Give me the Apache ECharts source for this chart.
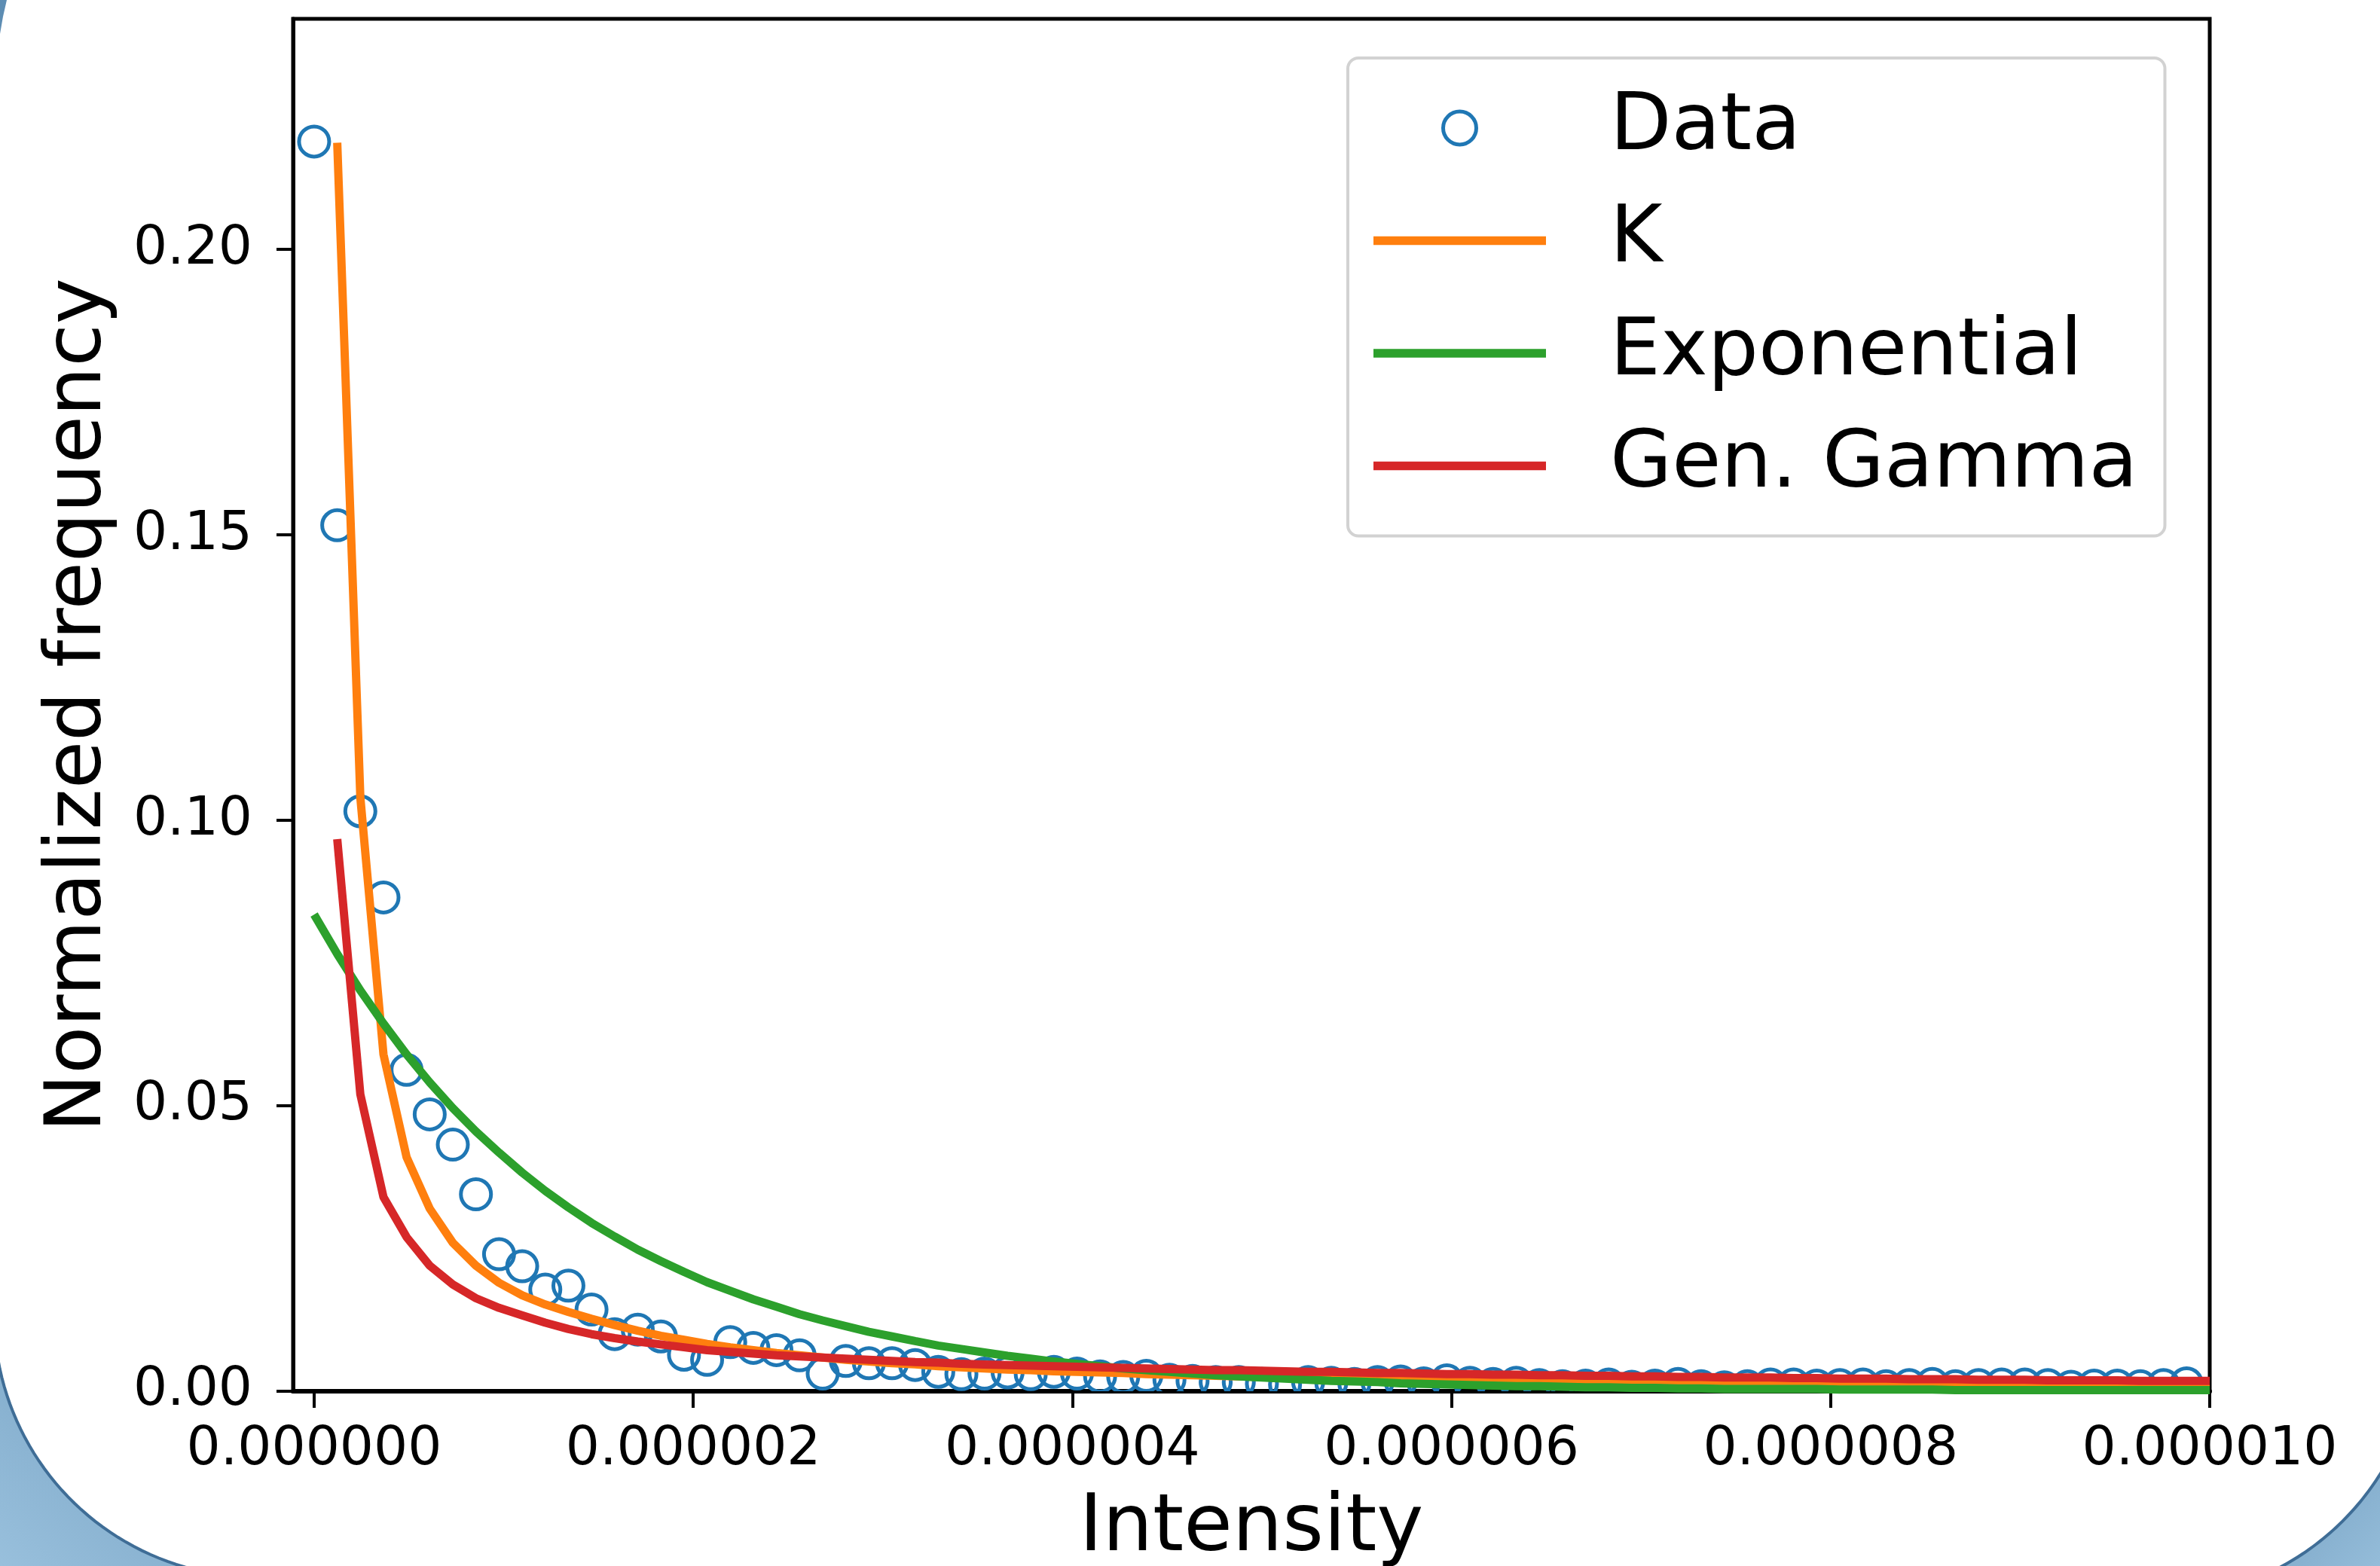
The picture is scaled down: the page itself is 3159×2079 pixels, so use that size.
<!DOCTYPE html>
<html>
<head>
<meta charset="utf-8">
<script src="https://cdn.jsdelivr.net/npm/echarts@6/dist/echarts.min.js"></script>
<style>
html,body{margin:0;padding:0;background:#fff;}
#chart{width:3159px;height:2079px;}
</style>
</head>
<body>
<div id="chart"></div>
<script>
// Bin edges (Intensity); the data use the first 82, the fitted curves run to the last edge
const xs = [0, 0.1220e-6, 0.2439e-6, 0.3659e-6, 0.4878e-6, 0.6098e-6, 0.7317e-6, 0.8537e-6, 0.9756e-6, 1.0976e-6,
  1.2195e-6, 1.3415e-6, 1.4634e-6, 1.5854e-6, 1.7073e-6, 1.8293e-6, 1.9512e-6, 2.0732e-6, 2.1951e-6, 2.3171e-6,
  2.4390e-6, 2.5610e-6, 2.6829e-6, 2.8049e-6, 2.9268e-6, 3.0488e-6, 3.1707e-6, 3.2927e-6, 3.4146e-6, 3.5366e-6,
  3.6585e-6, 3.7805e-6, 3.9024e-6, 4.0244e-6, 4.1463e-6, 4.2683e-6, 4.3902e-6, 4.5122e-6, 4.6341e-6, 4.7561e-6,
  4.8780e-6, 5.0000e-6, 5.1220e-6, 5.2439e-6, 5.3659e-6, 5.4878e-6, 5.6098e-6, 5.7317e-6, 5.8537e-6, 5.9756e-6,
  6.0976e-6, 6.2195e-6, 6.3415e-6, 6.4634e-6, 6.5854e-6, 6.7073e-6, 6.8293e-6, 6.9512e-6, 7.0732e-6, 7.1951e-6,
  7.3171e-6, 7.4390e-6, 7.5610e-6, 7.6829e-6, 7.8049e-6, 7.9268e-6, 8.0488e-6, 8.1707e-6, 8.2927e-6, 8.4146e-6,
  8.5366e-6, 8.6585e-6, 8.7805e-6, 8.9024e-6, 9.0244e-6, 9.1463e-6, 9.2683e-6, 9.3902e-6, 9.5122e-6, 9.6341e-6,
  9.7561e-6, 9.8780e-6, 10.0000e-6];

// Measured normalized frequency (open circles)
const dataY = [0.2189,0.1517,0.1016,0.0865,0.0563,0.0485,0.0432,0.0345,0.0240,0.0219,
  0.0178,0.0185,0.0143,0.0100,0.0108,0.0096,0.0064,0.0055,0.0086,0.0076,
  0.0072,0.0063,0.0031,0.0053,0.0049,0.0049,0.0046,0.0034,0.0030,0.0031,
  0.0033,0.0030,0.0034,0.0031,0.0026,0.0025,0.0027,0.0020,0.0018,0.0016,
  0.0016,0.0013,0.0012,0.0016,0.0015,0.0013,0.0016,0.0017,0.0014,0.0019,
  0.0015,0.0013,0.0015,0.0011,0.0009,0.0010,0.0012,0.0008,0.0010,0.0013,
  0.0009,0.0007,0.0009,0.0012,0.0012,0.0010,0.0011,0.0012,0.0009,0.0011,
  0.0013,0.0009,0.0011,0.0012,0.0012,0.0011,0.0008,0.0010,0.0010,0.0009,
  0.0011,0.0014];

// K distribution fit
const kY = [null,0.2187,0.104,0.059,0.041,0.032,0.026,0.022,0.019,0.0168,
  0.0152,0.0139,0.0127,0.0116,0.0106,0.0097,0.0090,0.0083,0.0077,0.0072,
  0.0067,0.0063,0.0059,0.0055,0.0052,0.0049,0.0047,0.0044,0.0042,0.0040,
  0.0038,0.0037,0.0035,0.0034,0.0033,0.0032,0.0030,0.0029,0.0028,0.0027,
  0.0026,0.0025,0.0024,0.0024,0.0023,0.0022,0.0021,0.0021,0.0020,0.0019,
  0.0019,0.0018,0.0018,0.0017,0.0017,0.0016,0.0016,0.0015,0.0015,0.0014,
  0.0014,0.0014,0.0013,0.0013,0.0013,0.0012,0.0012,0.0012,0.0011,0.0011,
  0.0011,0.0011,0.0010,0.0010,0.0010,0.0010,0.0009,0.0009,0.0009,0.0009,
  0.0008,0.0008,0.0008];

// Exponential fit
const expY = [0.0835,0.0766,0.0702,0.0644,0.0590,0.0541,0.0496,0.0455,0.0418,0.0383,
  0.0351,0.0322,0.0295,0.0271,0.0248,0.0228,0.0209,0.0191,0.0176,0.0161,
  0.0148,0.0135,0.0124,0.0114,0.0104,0.0096,0.0088,0.0080,0.0074,0.0068,
  0.0062,0.0057,0.0052,0.0048,0.0044,0.0040,0.0037,0.0034,0.0031,0.0028,
  0.0026,0.0024,0.0022,0.0020,0.0018,0.0017,0.0016,0.0014,0.0013,0.0012,
  0.0011,0.0010,0.0009,0.0009,0.0008,0.0007,0.0007,0.0006,0.0006,0.0005,
  0.0005,0.0004,0.0004,0.0004,0.0004,0.0004,0.0003,0.0003,0.0003,0.0003,
  0.0003,0.0002,0.0002,0.0002,0.0002,0.0002,0.0002,0.0002,0.0002,0.0002,
  0.0002,0.0002,0.0002];

// Generalized Gamma fit
const ggY = [null,0.0967,0.052,0.034,0.027,0.022,0.0187,0.0163,0.0146,0.0133,
  0.0120,0.0109,0.0100,0.0093,0.0087,0.0082,0.0077,0.0072,0.0069,0.0066,
  0.0063,0.0061,0.0059,0.0057,0.0055,0.0053,0.0051,0.0050,0.0048,0.0047,
  0.0046,0.0045,0.0044,0.0043,0.0042,0.0041,0.0040,0.0039,0.0038,0.0037,
  0.0037,0.0036,0.0035,0.0034,0.0034,0.0033,0.0032,0.0032,0.0031,0.0030,
  0.0030,0.0029,0.0029,0.0028,0.0028,0.0027,0.0027,0.0026,0.0026,0.0025,
  0.0025,0.0024,0.0024,0.0024,0.0023,0.0023,0.0022,0.0022,0.0022,0.0021,
  0.0021,0.0021,0.0020,0.0020,0.0020,0.0019,0.0019,0.0019,0.0019,0.0018,
  0.0018,0.0018,0.0018];

const seriesNames = ['Data', 'K', 'Exponential', 'Gen. Gamma'];
const xTickValues = [0, 2e-6, 4e-6, 6e-6, 8e-6, 10e-6];
const xTickLabels = ['0.000000', '0.000002', '0.000004', '0.000006', '0.000008', '0.000010'];
const yTickValues = [0, 0.05, 0.10, 0.15, 0.20];
const yTickLabels = ['0.00', '0.05', '0.10', '0.15', '0.20'];

function pairs(ys) {
  const out = [];
  for (let i = 0; i < xs.length; i++) if (ys[i] != null) out.push([xs[i], ys[i]]);
  return out;
}
function lookup(vals, labels, v) {
  let best = 0, bd = Infinity;
  vals.forEach((t, i) => { const d = Math.abs(t - v); if (d < bd) { bd = d; best = i; } });
  return labels[best];
}
// decorative background corner (arc outline of the rounded card)
function arcPoly(cx, cy, r, a0, a1, extra) {
  const pts = [];
  const n = 40;
  for (let k = 0; k <= n; k++) {
    const a = (a0 + (a1 - a0) * k / n) * Math.PI / 180;
    pts.push([cx + r * Math.cos(a), cy + r * Math.sin(a)]);
  }
  return pts.concat(extra);
}

const FONT = 'DejaVu Sans';
const chart = echarts.init(document.getElementById('chart'), null, {renderer: 'canvas'});
const blueFill = (x0, y0, x1, y1) => new echarts.graphic.LinearGradient(x0, y0, x1, y1,
  [{offset: 0, color: '#6f9bbd'}, {offset: 1, color: '#9cc3df'}]);

const option = {
  animation: false,
  backgroundColor: '#ffffff',
  textStyle: {fontFamily: FONT},
  grid: {
    left: 389, right: 226, top: 25, bottom: 232,
    show: true, borderColor: '#000', borderWidth: 5, backgroundColor: 'transparent',
    containLabel: false, outerBoundsMode: 'none'
  },
  xAxis: {
    type: 'value', min: -1.11e-7, max: 1e-5,
    name: 'Intensity', nameLocation: 'middle', nameGap: 131,
    nameTextStyle: {fontSize: 105, color: '#000', fontFamily: FONT},
    axisLine: {show: true, onZero: false, lineStyle: {color: '#000', width: 6}},
    axisTick: {show: true, inside: false, length: 22, lineStyle: {color: '#000', width: 4}, customValues: xTickValues},
    axisLabel: {show: true, fontSize: 71, color: '#000', margin: 43, fontFamily: FONT,
      customValues: xTickValues, formatter: v => lookup(xTickValues, xTickLabels, v)},
    splitLine: {show: false}
  },
  yAxis: {
    type: 'value', min: 0, max: 0.2404,
    name: 'Normalized frequency', nameLocation: 'middle', nameGap: 231,
    nameTextStyle: {fontSize: 103, color: '#000', fontFamily: FONT},
    axisLine: {show: true, onZero: false, lineStyle: {color: '#000', width: 5}},
    axisTick: {show: true, inside: false, length: 22, lineStyle: {color: '#000', width: 4}, customValues: yTickValues},
    axisLabel: {show: true, fontSize: 71, color: '#000', margin: 54, fontFamily: FONT,
      customValues: yTickValues, formatter: v => lookup(yTickValues, yTickLabels, v)},
    splitLine: {show: false}
  },
  legend: {
    orient: 'vertical', left: 1789, top: 77,
    padding: [40, 36, 40, 34],
    itemWidth: 229, itemHeight: 44, itemGap: 43.5,
    backgroundColor: 'rgba(255,255,255,0.85)', borderColor: '#d2d2d2', borderWidth: 4, borderRadius: 14,
    textStyle: {fontSize: 106, color: '#000', fontFamily: FONT, lineHeight: 104, padding: [0, 0, 0, 80]},
    data: [
      {name: seriesNames[0], icon: 'circle', itemStyle: {color: '#ffffff', borderColor: '#1f77b4', borderWidth: 5}},
      {name: seriesNames[1], icon: 'path://M0,0L100,0L100,5L0,5Z', itemStyle: {color: '#ff7f0e', borderWidth: 0}},
      {name: seriesNames[2], icon: 'path://M0,0L100,0L100,5L0,5Z', itemStyle: {color: '#2ca02c', borderWidth: 0}},
      {name: seriesNames[3], icon: 'path://M0,0L100,0L100,5L0,5Z', itemStyle: {color: '#d62728', borderWidth: 0}}
    ]
  },
  series: [
    {name: seriesNames[0], type: 'custom', coordinateSystem: 'cartesian2d', clip: true,
      data: pairs(dataY), encode: {x: 0, y: 1}, color: '#1f77b4', z: 2,
      renderItem: function (params, api) {
        const p = api.coord([api.value(0), api.value(1)]);
        return {type: 'circle', shape: {cx: p[0], cy: p[1], r: 20},
          style: {fill: 'none', stroke: '#1f77b4', lineWidth: 5}};
      }},
    {name: seriesNames[1], type: 'line', data: pairs(kY), symbol: 'none', showSymbol: false,
      color: '#ff7f0e', lineStyle: {color: '#ff7f0e', width: 11}, z: 3},
    {name: seriesNames[2], type: 'line', data: pairs(expY), symbol: 'none', showSymbol: false,
      color: '#2ca02c', lineStyle: {color: '#2ca02c', width: 11}, z: 3},
    {name: seriesNames[3], type: 'line', data: pairs(ggY), symbol: 'none', showSymbol: false,
      color: '#d62728', lineStyle: {color: '#d62728', width: 11}, z: 3}
  ],
  graphic: [
    {type: 'polygon', z: 0, silent: true,
      shape: {points: arcPoly(342, 1744, 350, 180, 100, [[-30, 2100], [-30, 1744]])},
      style: {fill: blueFill(1, 0, 0, 1), stroke: '#3f6d96', lineWidth: 4}},
    {type: 'polygon', z: 0, silent: true,
      shape: {points: arcPoly(2861, 1770, 352, 28, 66, [[3200, 2100], [3200, 1900]])},
      style: {fill: blueFill(0, 0, 1, 1), stroke: '#3f6d96', lineWidth: 4}},
    {type: 'polygon', z: 0, silent: true,
      shape: {points: [[0, 0], [9, 0], [4, 22], [0, 45]]},
      style: {fill: '#5d8db3'}},
    {type: 'text', z: 5, silent: true, x: 1473, y: -103,
      style: {text: 'p', fontSize: 100, fontFamily: FONT, fill: '#000', verticalAlign: 'top', align: 'left'}}
  ]
};
chart.setOption(option);
</script>
</body>
</html>
